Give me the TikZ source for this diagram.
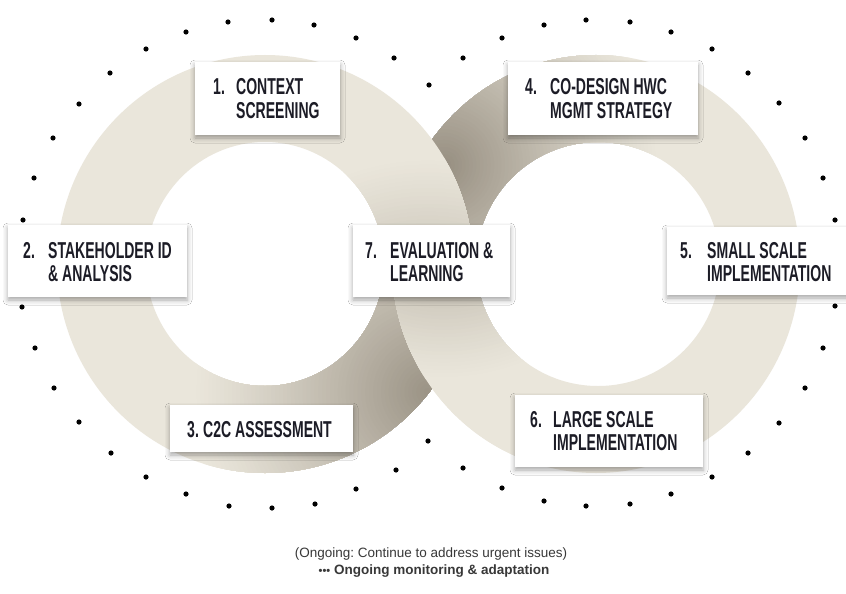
\documentclass[tikz,border=0pt]{standalone}
\usepackage{fontspec}
\setmainfont{Liberation Sans}
\newfontfamily\condf[FakeStretch=0.61]{Liberation Sans}
\usetikzlibrary{shadows.blur}
\definecolor{ringL}{RGB}{234,230,219}
\definecolor{ringD}{RGB}{150,142,128}
\definecolor{txt}{RGB}{28,28,38}
\frenchspacing
\begin{document}
\begin{tikzpicture}[x=1pt,y=-1pt,
  boxstyle/.style={draw=none, fill=white, inner sep=0pt, outer sep=0pt,
    blur shadow={shadow xshift=0pt, shadow yshift=-3pt, shadow blur radius=5pt, shadow opacity=35}},
  lab/.style={anchor=base west, inner sep=0pt, text=txt, font=\condf\bfseries\fontsize{23}{25}\selectfont},
  note/.style={anchor=base, inner sep=0pt, text=black!78, font=\fontsize{13.5}{15}\selectfont},
  dot/.style={fill=black}]
\useasboundingbox (0,0) rectangle (846,594);
\fill[white] (0,0) rectangle (846,594);

% right ring (behind)
\begin{scope}[even odd rule]
  \clip (596,264) ellipse [x radius=204, y radius=209] (598,264) ellipse [x radius=122, y radius=122];
  \fill[ringL] (380,40) rectangle (820,490);
  \foreach \i in {0,...,59} {
    \pgfmathsetmacro\rr{215*(1-\i/60)}
    \pgfmathsetmacro\pp{100*(\i/60)^1.15}
    \fill[ringD!\pp!ringL] (444,165) circle [radius=\rr];
  }
\end{scope}
% left ring
\begin{scope}[even odd rule]
  \clip (265,264) ellipse [x radius=208, y radius=209] (265,264) ellipse [x radius=119, y radius=122];
  \fill[ringL] (40,40) rectangle (490,490);
  \foreach \i in {0,...,59} {
    \pgfmathsetmacro\rr{235*(1-\i/60)}
    \pgfmathsetmacro\pp{95*(\i/60)^1.15}
    \fill[ringD!\pp!ringL] (428,392) circle [radius=\rr];
  }
\end{scope}
% right ring again over the lower crossing
\begin{scope}
  \clip (370,264) rectangle (520,500);
  \begin{scope}[even odd rule]
    \clip (596,264) ellipse [x radius=204, y radius=209] (598,264) ellipse [x radius=122, y radius=122];
    \fill[ringL] (370,264) rectangle (520,500);
    \foreach \i in {0,...,59} {
      \pgfmathsetmacro\rr{215*(1-\i/60)}
      \pgfmathsetmacro\pp{100*(\i/60)^1.15}
      \fill[ringD!\pp!ringL] (444,165) circle [radius=\rr];
    }
  \end{scope}
\end{scope}

% dotted ellipses
\foreach \p in {(23,220),(34,178),(53,138),(79,104),(110,73),(146,49),(186,32),(228,22),(272,20),(314,25),(356,38),(394,58),(429,85),
  (22,307),(35,348),(54,388),(79,422),(111,453),(146,477),(186,494),(229,506),(272,508),(315,504),(356,489),(396,470),(428,441),
  (463,58),(502,38),(544,25),(586,20),(630,22),(671,32),(712,49),(748,73),(779,103),(805,138),(823,178),(835,220),
  (463,468),(502,488),(544,501),(586,506),(630,504),(671,494),(712,477),(748,453),(779,423),(805,388),(823,348),(835,306)}
  \fill[dot] \p circle [radius=2.6];

% boxes
\node[boxstyle, minimum width=145, minimum height=73] (b1) at (267.5,98.5) {};
\node[boxstyle, minimum width=190, minimum height=73] (b4) at (603,98.5) {};
\node[boxstyle, minimum width=179, minimum height=72] (b2) at (97.5,261) {};
\node[boxstyle, minimum width=157, minimum height=72] (b7) at (431.5,261) {};
\node[boxstyle, minimum width=183, minimum height=68] (b5) at (758.5,261) {};
\node[boxstyle, minimum width=183, minimum height=47] (b3) at (261.5,428.5) {};
\node[boxstyle, minimum width=188, minimum height=72] (b6) at (609,431) {};

% labels
\node[lab] (n1) at (213,95) {1.};
\node[lab] (l1a) at (236,95) {CONTEXT};
\node[lab] (l1b) at (236,118) {SCREENING};

\node[lab] (n4) at (525,95) {4.};
\node[lab] (l4a) at (550,95) {CO-DESIGN HWC};
\node[lab] (l4b) at (550,118) {MGMT STRATEGY};

\node[lab] (n2) at (23,258) {2.};
\node[lab] (l2a) at (48,258) {STAKEHOLDER ID};
\node[lab] (l2b) at (48,281) {\& ANALYSIS};

\node[lab] (n7) at (365,258) {7.};
\node[lab] (l7a) at (390,258) {EVALUATION \&};
\node[lab] (l7b) at (390,281) {LEARNING};

\node[lab] (n5) at (680,258) {5.};
\node[lab] (l5a) at (707,258) {SMALL SCALE};
\node[lab] (l5b) at (707,281) {IMPLEMENTATION};

\node[lab] (n3) at (187,437) {3.};
\node[lab] (l3a) at (203,437) {C2C ASSESSMENT};

\node[lab] (n6) at (530,427) {6.};
\node[lab] (l6a) at (553,427) {LARGE SCALE};
\node[lab] (l6b) at (553,450) {IMPLEMENTATION};

% notes
\node[note] (o1) at (431,557) {(Ongoing: Continue to address urgent issues)};
\node[note, font=\bfseries\fontsize{13.5}{15}\selectfont] (o2) at (434,574) {{\fontsize{11}{12}\selectfont\textbullet\textbullet\textbullet}\ Ongoing monitoring \& adaptation};
\end{tikzpicture}
\end{document}
